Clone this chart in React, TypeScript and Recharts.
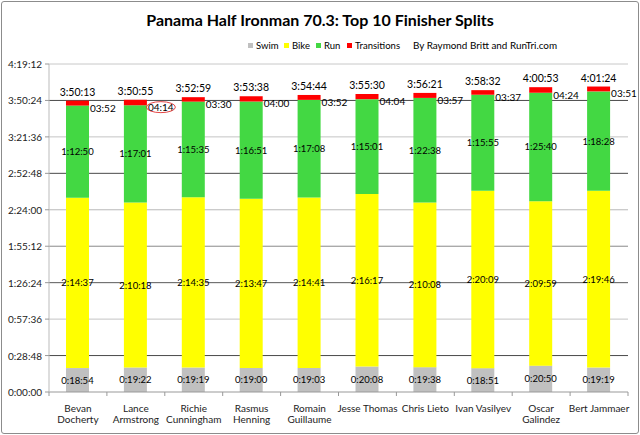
import React from 'react';
import { BarChart, Bar, XAxis, YAxis, CartesianGrid, LabelList } from 'recharts';

const athletes = [
  'Bevan\nDocherty', 'Lance\nArmstrong', 'Richie\nCunningham', 'Rasmus\nHenning', 'Romain\nGuillaume',
  'Jesse Thomas', 'Chris Lieto', 'Ivan Vasilyev', 'Oscar\nGalindez', 'Bert Jammaer',
];
const swimTimes = ['0:18:54', '0:19:22', '0:19:19', '0:19:00', '0:19:03', '0:20:08', '0:19:38', '0:18:51', '0:20:50', '0:19:19'];
const bikeTimes = ['2:14:37', '2:10:18', '2:14:35', '2:13:47', '2:14:41', '2:16:17', '2:10:08', '2:20:09', '2:09:59', '2:19:46'];
const runTimes = ['1:12:50', '1:17:01', '1:15:35', '1:16:51', '1:17:08', '1:15:01', '1:22:38', '1:15:55', '1:25:40', '1:18:28'];
const transitionTimes = ['03:52', '04:14', '03:30', '04:00', '03:52', '04:04', '03:57', '03:37', '04:24', '03:51'];
const totalTimes = ['3:50:13', '3:50:55', '3:52:59', '3:53:38', '3:54:44', '3:55:30', '3:56:21', '3:58:32', '4:00:53', '4:01:24'];
const yTickLabels = ['0:00:00', '0:28:48', '0:57:36', '1:26:24', '1:55:12', '2:24:00', '2:52:48', '3:21:36', '3:50:24', '4:19:12'];
const seriesNames = ['Swim', 'Bike', 'Run', 'Transitions'];
const seriesColors = ['#c0c0c0', '#ffff00', '#43d843', '#ff0000'];
const credit = 'By Raymond Britt and RunTri.com';
const circledIndex = 1;

const toSec = (s: string) => s.split(':').reduce((a, p) => a * 60 + Number(p), 0);
const pad = (n: number) => String(n).padStart(2, '0');
const fmtH = (sec: number) => `${Math.floor(sec / 3600)}:${pad(Math.floor((sec % 3600) / 60))}:${pad(sec % 60)}`;
const fmtMS = (sec: number) => `${pad(Math.floor(sec / 60))}:${pad(sec % 60)}`;

const data = athletes.map((name, i) => ({
  name,
  swim: toSec(swimTimes[i]),
  bike: toSec(bikeTimes[i]),
  run: toSec(runTimes[i]),
  transitions: toSec(transitionTimes[i]),
  total: totalTimes[i],
}));
const yTicks = yTickLabels.map(toSec);

const W = 640;
const H = 435;
const MARGIN = { top: 64, right: 12, left: 0, bottom: 8 };
const Y_W = 49;
const X_H = 35;
const PLOT_BOTTOM = H - MARGIN.bottom - X_H;
const PLOT_H = PLOT_BOTTOM - MARGIN.top;
const BAND = (W - MARGIN.left - MARGIN.right - Y_W) / athletes.length;
const FONT = 'Lato, "Open Sans", "DejaVu Sans", sans-serif';
const gridColors = ['#999', '#4a4a4a', '#c4c4c4', '#5a5a5a', '#8a8a8a', '#b8b8b8', '#4a4a4a', '#c4c4c4', '#4a4a4a', '#c8c8c8'];
const legendX = [248, 284, 316, 347];
const creditX = 413;

const centerLabel = (fmt: (v: number) => string) => (props: any) => {
  const { x, y, width, height, value } = props;
  return (
    <text x={x + width / 2} y={y + height / 2} textAnchor="middle" dominantBaseline="central"
      fontSize={9.5} fill="#000" fontFamily={FONT}>
      {fmt(value)}
    </text>
  );
};

const transLabel = (props: any) => {
  const { x, y, width, height, value, index } = props;
  const lx = x + width + 1;
  const ly = y + height + 2;
  return (
    <g>
      <text x={lx} y={ly} textAnchor="start" dominantBaseline="central" fontSize={10} fill="#000" fontFamily={FONT}>
        {fmtMS(value)}
      </text>
      {index === circledIndex && (
        <ellipse cx={lx + 13} cy={ly} rx={14.5} ry={5.5} fill="none" stroke="#e03030" strokeWidth={0.9} />
      )}
      <text x={x + width / 2} y={y - 9} textAnchor="middle" dominantBaseline="central" fontSize={10.5} fill="#000" fontFamily={FONT}>
        {data[index].total}
      </text>
    </g>
  );
};

const XTick = (props: any) => {
  const { x, y, payload, index } = props;
  const lines: string[] = String(payload.value).split('\n');
  return (
    <g>
      <line x1={x - BAND / 2} x2={x - BAND / 2} y1={y} y2={y + 4} stroke="#999" />
      {index === athletes.length - 1 && <line x1={x + BAND / 2} x2={x + BAND / 2} y1={y} y2={y + 4} stroke="#999" />}
      {lines.map((l, i) => (
        <text key={i} x={x} y={y + 16 + i * 11} textAnchor="middle" dominantBaseline="central" fontSize={10} fill="#222" fontFamily={FONT}>
          {l}
        </text>
      ))}
    </g>
  );
};

const YTick = (props: any) => {
  const { y, payload } = props;
  return (
    <text x={42} y={y} textAnchor="end" dominantBaseline="central" fontSize={10} fill="#222" fontFamily={FONT}>
      {fmtH(payload.value)}
    </text>
  );
};

const GridLine = (props: any) => {
  const { x1, x2, y1 } = props;
  const idx = Math.round(((PLOT_BOTTOM - y1) / PLOT_H) * (yTicks.length - 1));
  if (idx <= 0) return <g />;
  return <line x1={x1} x2={x2} y1={y1} y2={y1} stroke={gridColors[idx] || '#999'} strokeWidth={1} />;
};

export default function App() {
  return (
    <div style={{ position: 'fixed', left: 0, top: 0, width: W, height: H, background: '#fff' }}>
      <div style={{ position: 'absolute', left: 1, top: 1, width: W - 4, height: H - 4, border: '1px solid #8c8c8c', borderRadius: 3 }} />
      <div style={{ position: 'absolute', left: 0, top: 10, width: W, textAlign: 'center', fontFamily: FONT, fontWeight: 700, fontSize: 16, color: '#000' }}>
        Panama Half Ironman 70.3: Top 10 Finisher Splits
      </div>
      {seriesNames.map((n, i) => (
        <div key={n} style={{ position: 'absolute', left: legendX[i], top: 38, height: 14, display: 'flex', alignItems: 'center', fontFamily: FONT, fontSize: 9.5, color: '#000', whiteSpace: 'nowrap' }}>
          <span style={{ width: 5, height: 5, background: seriesColors[i], marginRight: 3, display: 'inline-block' }} />
          {n}
        </div>
      ))}
      <div style={{ position: 'absolute', left: creditX, top: 38, height: 14, display: 'flex', alignItems: 'center', fontFamily: FONT, fontSize: 9.9, color: '#000', whiteSpace: 'nowrap' }}>
        {credit}
      </div>
      <BarChart width={W} height={H} data={data} margin={MARGIN} barSize={23} style={{ position: 'absolute', left: 0, top: 0 }}>
        <CartesianGrid vertical={false} horizontal={(p: any) => <GridLine {...p} />} />
        <XAxis dataKey="name" interval={0} tick={<XTick />} tickLine={false} tickSize={0} tickMargin={0}
          height={X_H} axisLine={{ stroke: '#999' }} />
        <YAxis type="number" domain={[0, yTicks[yTicks.length - 1]]} ticks={yTicks} interval={0} width={Y_W}
          tick={<YTick />} tickLine={{ stroke: '#999' }} tickSize={4} axisLine={{ stroke: '#bbb' }} />
        <Bar dataKey="swim" name={seriesNames[0]} stackId="a" fill={seriesColors[0]} isAnimationActive={false}>
          <LabelList dataKey="swim" content={centerLabel(fmtH)} />
        </Bar>
        <Bar dataKey="bike" name={seriesNames[1]} stackId="a" fill={seriesColors[1]} isAnimationActive={false}>
          <LabelList dataKey="bike" content={centerLabel(fmtH)} />
        </Bar>
        <Bar dataKey="run" name={seriesNames[2]} stackId="a" fill={seriesColors[2]} isAnimationActive={false}>
          <LabelList dataKey="run" content={centerLabel(fmtH)} />
        </Bar>
        <Bar dataKey="transitions" name={seriesNames[3]} stackId="a" fill={seriesColors[3]} isAnimationActive={false}>
          <LabelList dataKey="transitions" content={transLabel} />
        </Bar>
      </BarChart>
    </div>
  );
}
